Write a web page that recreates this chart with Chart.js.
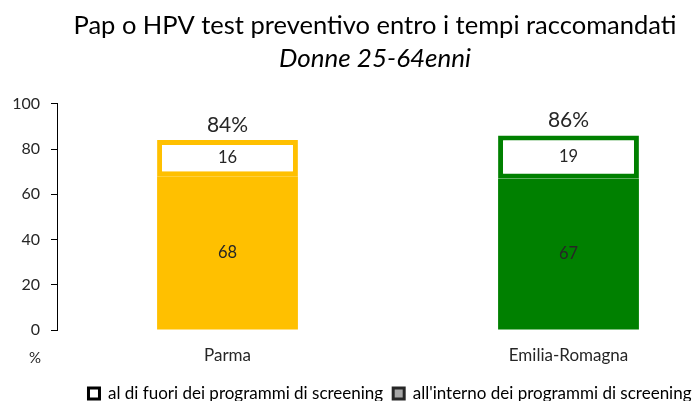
<!DOCTYPE html>
<html>
<head>
<meta charset="utf-8">
<script src="https://cdn.jsdelivr.net/npm/chart.js@4/dist/chart.umd.min.js"></script>
<style>
  html, body { margin: 0; padding: 0; background: #fff; overflow: hidden; }
  #wrap { position: absolute; left: 0; top: 0; width: 760px; height: 412px; }
</style>
</head>
<body>
<div id="wrap"><canvas id="papChart"></canvas></div>
<script>
// Pap/HPV test within recommended intervals, women 25-64
const areas = ['Parma', 'Emilia-Romagna'];
const insideScreening = [68, 67];   // all'interno dei programmi di screening
const outsideScreening = [16, 19];  // al di fuori dei programmi di screening
const barColors = ['#FFC000', '#008000'];
const yTicks = [0, 20, 40, 60, 80, 100];

const FONT = 'Lato, "Open Sans", sans-serif';
const TEXT = '#262626';

// writes segment values inside the bars, totals above, and the % unit under the axis
const barLabels = {
  id: 'barLabels',
  afterDatasetsDraw(chart) {
    const ctx = chart.ctx;
    ctx.save();
    ctx.fillStyle = TEXT;
    ctx.textAlign = 'center';
    ctx.textBaseline = 'middle';
    ctx.font = '16.5px ' + FONT;
    chart.data.datasets.forEach((ds, i) => {
      chart.getDatasetMeta(i).data.forEach((bar, j) => {
        const p = bar.getProps(['x', 'y', 'base'], true);
        ctx.fillText(ds.data[j], p.x, (p.y + p.base) / 2);
      });
    });
    ctx.font = '21px ' + FONT;
    const top = chart.getDatasetMeta(1).data;
    areas.forEach((a, j) => {
      const total = insideScreening[j] + outsideScreening[j];
      const p = top[j].getProps(['x', 'y'], true);
      ctx.fillText(total + '%', p.x, p.y - 15);
    });
    ctx.font = '15px ' + FONT;
    ctx.fillText('%', 35, chart.scales.y.bottom + 28);
    ctx.restore();
  }
};

// nudge the legend row a little to the right of centre
const legendShift = {
  id: 'legendShift',
  afterLayout(chart) {
    chart.legend.left += 15;
    chart.legend.right += 15;
  }
};

new Chart(document.getElementById('papChart'), {
  type: 'bar',
  data: {
    labels: areas,
    datasets: [
      {
        label: "all'interno dei programmi di screening",
        data: insideScreening,
        backgroundColor: barColors,
        borderWidth: 0,
        categoryPercentage: 0.413,
        barPercentage: 1
      },
      {
        label: 'al di fuori dei programmi di screening',
        data: outsideScreening,
        backgroundColor: '#ffffff',
        borderColor: barColors,
        borderWidth: 5,
        borderSkipped: false,
        categoryPercentage: 0.413,
        barPercentage: 1
      }
    ]
  },
  options: {
    responsive: true,
    maintainAspectRatio: false,
    animation: false,
    layout: { padding: { left: 11, right: 21, top: 0, bottom: 0 } },
    scales: {
      x: {
        stacked: true,
        grid: { display: false },
        border: { display: false },
        ticks: { color: TEXT, font: { family: FONT, size: 17 }, padding: 7 },
        afterFit(scale) { scale.height = 45; }
      },
      y: {
        stacked: true,
        min: 0,
        max: 100,
        afterBuildTicks(scale) { scale.ticks = yTicks.map(v => ({ value: v })); },
        grid: { drawOnChartArea: false, drawTicks: true, tickLength: 6, color: '#000' },
        border: { display: true, color: '#000', width: 1 },
        ticks: { color: TEXT, font: { family: FONT, size: 16 }, padding: 11 },
        afterFit(scale) { scale.width = 46; }
      }
    },
    plugins: {
      title: {
        display: true,
        text: 'Pap o HPV test preventivo entro i tempi raccomandati',
        color: '#000',
        font: { family: FONT, size: 25.5, weight: 'normal' },
        padding: { top: 10, bottom: 2 }
      },
      subtitle: {
        display: true,
        text: 'Donne 25-64enni',
        color: '#000',
        font: { family: FONT, size: 26, style: 'italic', weight: 'normal' },
        padding: { top: 0, bottom: 30 }
      },
      legend: {
        position: 'bottom',
        labels: {
          color: TEXT,
          font: { family: FONT, size: 17 },
          boxWidth: 11,
          boxHeight: 11,
          padding: 10,
          generateLabels() {
            return [
              { text: 'al di fuori dei programmi di screening', fillStyle: '#ffffff', strokeStyle: '#000000', lineWidth: 3, datasetIndex: 1 },
              { text: "all'interno dei programmi di screening", fillStyle: '#a6a6a6', strokeStyle: '#262626', lineWidth: 3, datasetIndex: 0 }
            ];
          }
        }
      },
      tooltip: { enabled: false }
    }
  },
  plugins: [barLabels, legendShift]
});
</script>
</body>
</html>
